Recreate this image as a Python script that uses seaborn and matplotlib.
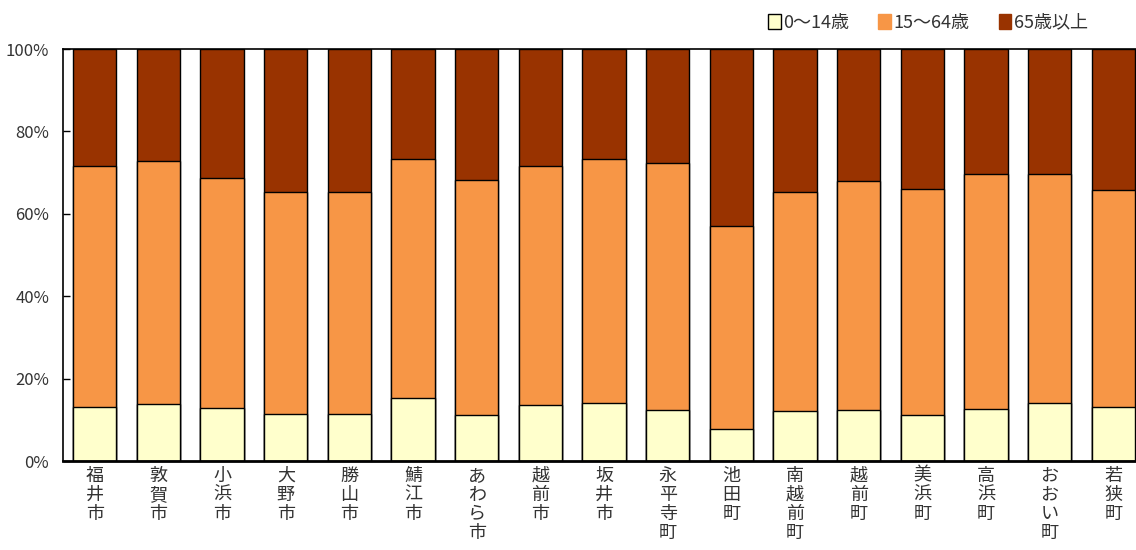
import matplotlib
matplotlib.use('Agg')
import matplotlib.pyplot as plt
import matplotlib.patches as mpatches
import seaborn as sns
import numpy as np

# 市町名と年齢3区分の構成比(%)
municipios = ['福井市', '敦賀市', '小浜市', '大野市', '勝山市', '鯖江市', 'あわら市', '越前市',
              '坂井市', '永平寺町', '池田町', '南越前町', '越前町', '美浜町', '高浜町', 'おおい町', '若狭町']
edad_0_14 = [13.2, 13.8, 12.8, 11.5, 11.4, 15.2, 11.2, 13.5, 14.1, 12.4, 7.8, 12.1, 12.4, 11.1, 12.7, 14.1, 13.1]
edad_15_64 = [58.5, 59.1, 55.8, 53.7, 53.8, 58.1, 57.1, 58.2, 59.1, 59.9, 49.2, 53.1, 55.6, 54.8, 57.0, 55.6, 52.7]
edad_65 = [28.3, 27.1, 31.4, 34.8, 34.8, 26.7, 31.7, 28.3, 26.8, 27.7, 43.0, 34.8, 32.0, 34.1, 30.3, 30.3, 34.2]
series = ['0～14歳', '15～64歳', '65歳以上']
colores = ['#FFFFCC', '#F79646', '#993300']

sns.set_style('white')
plt.rcParams['font.family'] = ['Noto Sans CJK JP', 'DejaVu Sans']

fig = plt.figure(figsize=(11.36, 5.5), dpi=100)
ax = fig.add_axes([63 / 1136, 89 / 550, 1082 / 1136, 412 / 550])

# barras apiladas: se dibujan los acumulados de mayor a menor
acum1 = np.array(edad_0_14)
acum2 = acum1 + np.array(edad_15_64)
acum3 = acum2 + np.array(edad_65)
for valores, color in zip([acum3, acum2, acum1], colores[::-1]):
    sns.barplot(x=municipios, y=valores, color=color, width=0.68,
                edgecolor='black', linewidth=1, saturation=1, ax=ax)

ax.set_xlim(-0.5, len(municipios) - 0.5)
ax.set_ylim(0, 100)
ax.set_yticks(range(0, 101, 20))
ax.set_yticklabels(['{}%'.format(v) for v in range(0, 101, 20)], fontsize=12, color='#333333')
ax.set_xticks(range(len(municipios)))
ax.set_xticklabels(['\n'.join(m) for m in municipios], fontsize=13, color='#333333',
                   va='top', linespacing=1.08)
ax.set_xticks(np.arange(0.5, len(municipios) - 0.5, 1), minor=True)
ax.tick_params(axis='x', which='major', length=0, pad=4)
ax.tick_params(axis='x', which='minor', direction='in', length=5, width=1, color='black')
ax.tick_params(axis='y', direction='in', length=5, width=1, color='black', pad=10, left=True)
ax.set_xlabel('')
ax.set_ylabel('')
for lado, sp in ax.spines.items():
    sp.set_visible(True)
    sp.set_color('black')
    sp.set_linewidth(1.2)
ax.spines['bottom'].set_linewidth(2)

handles = [mpatches.Patch(facecolor=c, edgecolor='black' if i == 0 else c, linewidth=1, label=s)
           for i, (s, c) in enumerate(zip(series, colores))]
fig.legend(handles=handles, loc='upper right', bbox_to_anchor=(0.972, 1.005), ncol=3, frameon=False,
           fontsize=13, handlelength=0.7, handleheight=0.9, handletextpad=0.15, columnspacing=1.6,
           labelcolor='#333333')

fig.savefig('out.png', dpi=100)
